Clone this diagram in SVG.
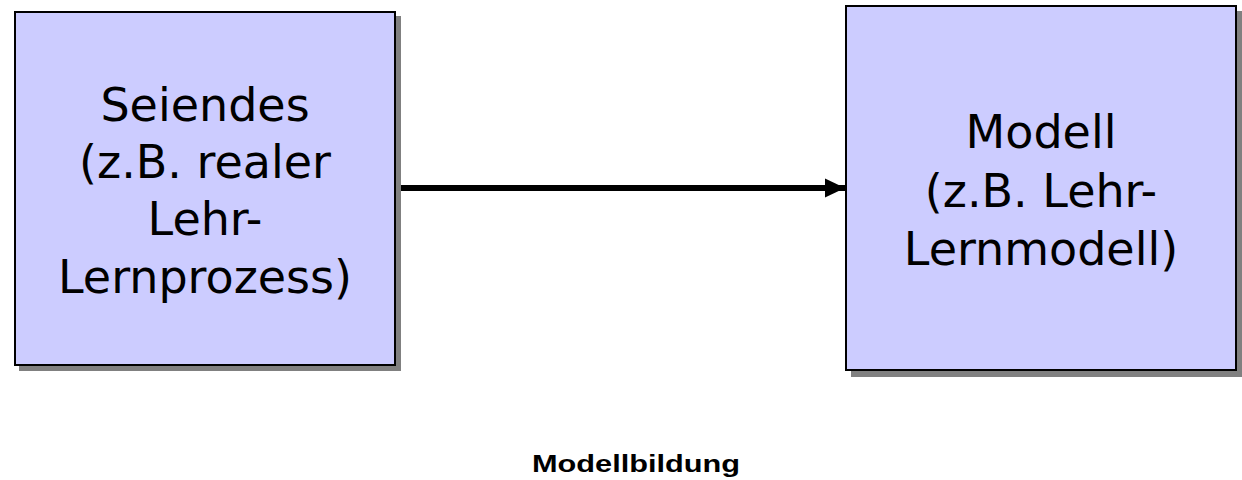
<svg xmlns="http://www.w3.org/2000/svg" width="1242" height="480" viewBox="0 0 1242 480">
<defs>
<style>
.shadow{fill:#808080;}
.box{fill:#CCCCFF;stroke:#000;stroke-width:2;}
.t{font-family:"DejaVu Sans",Verdana,sans-serif;font-size:46px;fill:#000;text-anchor:middle;}
.lbl{font-family:"Liberation Sans",Arial,sans-serif;font-size:24px;font-weight:bold;fill:#000;}
</style>
<marker id="ah" markerUnits="userSpaceOnUse" markerWidth="20" markerHeight="20" refX="20" refY="10" orient="auto">
<path d="M0,0.5 L20,10 L0,19.5 Z" fill="#000"/>
</marker>
</defs>
<rect width="1242" height="480" fill="#fff"/>
<g id="connectors">
<line x1="396" y1="188" x2="845" y2="188" stroke="#000" stroke-width="6" marker-end="url(#ah)"/>
</g>
<g id="node-seiendes">
<rect class="shadow" x="19" y="16" width="382" height="355"/>
<rect class="box" x="15" y="12" width="380" height="353"/>
<text class="t" x="205" y="121">Seiendes</text>
<text class="t" x="205" y="178">(z.B. realer</text>
<text class="t" x="205" y="235">Lehr-</text>
<text class="t" x="205" y="293">Lernprozess)</text>
</g>
<g id="node-modell">
<rect class="shadow" x="851" y="11" width="392" height="366"/>
<rect class="box" x="846" y="6" width="390" height="364"/>
<text class="t" x="1041" y="148">Modell</text>
<text class="t" x="1041" y="207">(z.B. Lehr-</text>
<text class="t" x="1041" y="265">Lernmodell)</text>
</g>
<g id="label">
<text class="lbl" x="532" y="472" textLength="208" lengthAdjust="spacingAndGlyphs">Modellbildung</text>
</g>
</svg>
